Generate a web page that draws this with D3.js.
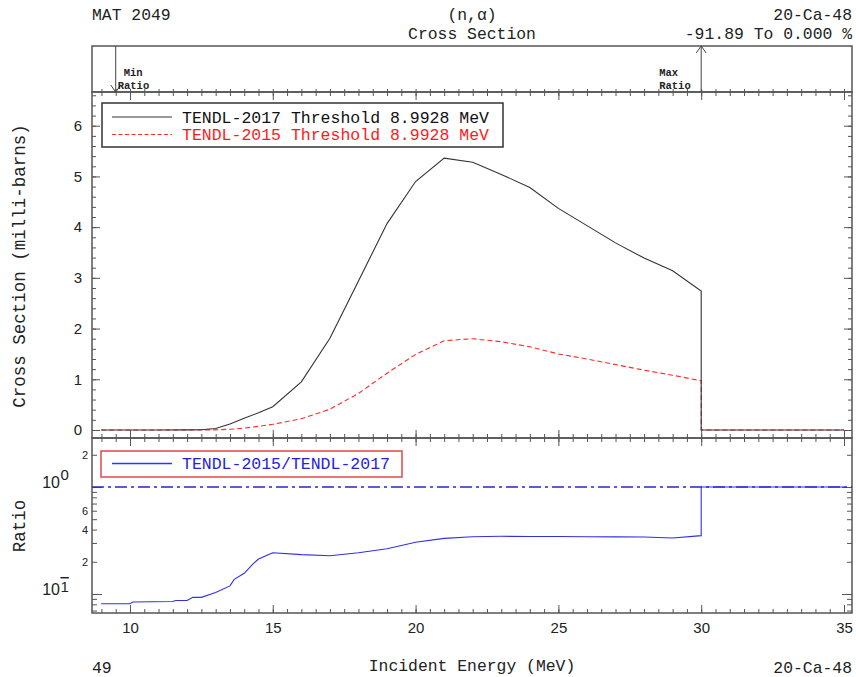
<!DOCTYPE html>
<html><head><meta charset="utf-8">
<script src="https://cdn.jsdelivr.net/npm/d3@7/dist/d3.min.js"></script>
<style>
body{margin:0;background:#fff}
text{font-family:"Liberation Mono","DejaVu Sans Mono",monospace}
</style>
</head><body>
<svg id="c" width="856" height="677"></svg>
<script>
// ---------- data ----------
const xsEnergy = [8.9928, 10, 11, 12, 12.5, 13, 13.5, 14, 14.5, 15, 16, 17, 18, 19, 20, 21, 22, 23, 24, 25, 26, 27, 28, 29, 30, 30, 35];
const xsTendl2017 = [0, 0.0003, 0.0008, 0.002, 0.006, 0.03, 0.12, 0.23, 0.34, 0.46, 0.95, 1.81, 2.94, 4.07, 4.9, 5.36, 5.28, 5.04, 4.78, 4.37, 4.03, 3.69, 3.39, 3.14, 2.74, 0, 0];
const xsTendl2015 = [0, 0, 0, 0.0002, 0.0005, 0.003, 0.014, 0.036, 0.072, 0.112, 0.22, 0.41, 0.72, 1.12, 1.49, 1.76, 1.80, 1.74, 1.64, 1.50, 1.40, 1.29, 1.18, 1.08, 0.97, 0, 0];
const ratioEnergy = [8.9928, 10, 10.1, 11.5, 11.6, 12, 12.2, 12.5, 13, 13.5, 13.65, 14, 14.3, 14.5, 15, 16, 17, 18, 19, 20, 21, 22, 23, 24, 25, 26, 27, 28, 29, 30, 30, 35];
const ratioValues = [0.081, 0.081, 0.084, 0.085, 0.087, 0.087, 0.093, 0.093, 0.103, 0.119, 0.137, 0.156, 0.190, 0.212, 0.243, 0.233, 0.228, 0.243, 0.265, 0.304, 0.331, 0.343, 0.346, 0.345, 0.344, 0.343, 0.342, 0.341, 0.334, 0.351, 1, 1];
const xTickLabels = [10, 15, 20, 25, 30, 35];
const yTickLabels = [0, 1, 2, 3, 4, 5, 6];
const ratioMinorLabels = [0.2, 0.4, 0.6, 2];
const minRatioEnergy = 9.5;
const maxRatioEnergy = 30;
const legendMain = ["TENDL-2017 Threshold 8.9928 MeV", "TENDL-2015 Threshold 8.9928 MeV"];
const legendRatio = "TENDL-2015/TENDL-2017";

// ---------- layout ----------
const L = 92, R = 852, arrowTop = 46, mainTop = 92, mainBot = 438, ratioBot = 613;
const svg = d3.select("#c");
const x = d3.scaleLinear([8.67, 35.28], [L, R]);
const y = d3.scaleLinear([-0.158, 6.665], [mainBot, mainTop]);
const yr = d3.scaleLog([0.0664, 2.87], [ratioBot, mainBot]);

const frame = "#555";
const xMinor = d3.range(9, 35.01, 0.5);
const yMinor = d3.range(0, 6.61, 0.2);
const rMinor = [0.07,0.08,0.09,0.2,0.3,0.4,0.5,0.6,0.7,0.8,0.9,2];
const rMajor = [0.1, 1];

function ticks(axisFn, scale, vals, size, tx, ty) {
  const g = svg.append("g").attr("transform", `translate(${tx},${ty})`)
    .call(axisFn(scale).tickValues(vals).tickSize(size).tickFormat(""));
  g.select(".domain").remove();
  g.selectAll("line").attr("stroke", frame).attr("stroke-width", 1);
}
// x ticks
ticks(d3.axisTop, x, xMinor, -4, 0, mainTop);
ticks(d3.axisTop, x, xTickLabels, -8, 0, mainTop);
ticks(d3.axisBottom, x, xMinor, -3, 0, mainTop);
ticks(d3.axisBottom, x, xMinor, -4, 0, mainBot);
ticks(d3.axisBottom, x, xTickLabels, -8, 0, mainBot);
ticks(d3.axisTop, x, xMinor, -4, 0, mainBot);
ticks(d3.axisTop, x, xTickLabels, -8, 0, mainBot);
ticks(d3.axisBottom, x, xMinor, -4, 0, ratioBot);
ticks(d3.axisBottom, x, xTickLabels, -8, 0, ratioBot);
// y ticks main
ticks(d3.axisLeft, y, yMinor, -4, L, 0);
ticks(d3.axisLeft, y, yTickLabels, -8, L, 0);
ticks(d3.axisRight, y, yMinor, -4, R, 0);
ticks(d3.axisRight, y, yTickLabels, -8, R, 0);
// y ticks ratio
ticks(d3.axisLeft, yr, rMinor, -5, L, 0);
ticks(d3.axisLeft, yr, rMajor, -10, L, 0);
ticks(d3.axisRight, yr, rMinor, -5, R, 0);
ticks(d3.axisRight, yr, rMajor, -10, R, 0);

// frames
[[arrowTop, mainTop], [mainTop, mainBot], [mainBot, ratioBot]].forEach(([a, b]) => {
  svg.append("rect").attr("x", L).attr("y", a).attr("width", R - L).attr("height", b - a)
    .attr("fill", "none").attr("stroke", frame).attr("stroke-width", 1.5);
});

const sans = "Liberation Sans, Arial, sans-serif";
// tick labels
const gx = svg.append("g").attr("transform", `translate(0,${ratioBot})`)
  .call(d3.axisBottom(x).tickValues(xTickLabels).tickSize(0).tickPadding(9).tickFormat(d3.format("d")));
gx.select(".domain").remove();
gx.selectAll("text").attr("font-size", 15).attr("fill", "#222").style("font-family", sans);
const gy = svg.append("g").attr("transform", `translate(${L},0)`)
  .call(d3.axisLeft(y).tickValues(yTickLabels).tickSize(0).tickPadding(10).tickFormat(d3.format("d")));
gy.select(".domain").remove();
gy.selectAll("text").attr("font-size", 15).attr("fill", "#222").style("font-family", sans);
const gr = svg.append("g").attr("transform", `translate(${L - 4},0)`)
  .call(d3.axisLeft(yr).tickValues(ratioMinorLabels).tickSize(0).tickPadding(0).tickFormat(d => d < 1 ? String(Math.round(d * 10)) : String(d)));
gr.select(".domain").remove();
gr.selectAll("text").attr("font-size", 11).attr("fill", "#222").style("font-family", sans);

// decade labels
function decade(val, sup, overline, dy) {
  svg.append("text").attr("x", 60).attr("y", yr(val) + dy)
    .attr("text-anchor", "end").attr("font-size", 16).attr("fill", "#222")
    .style("font-family", sans).text("10");
  const s = svg.append("text").attr("x", 60.5).attr("y", yr(val) + dy - (overline ? 3 : 8))
    .attr("font-size", 15).attr("fill", "#222")
    .style("font-family", sans).text(sup);
  if (overline) s.style("text-decoration", "overline");
}
decade(1, "0", false, 1);
decade(0.1, "1", true, 1);

// axis titles
svg.append("text").attr("transform", `translate(25,${(122 + 410) / 2}) rotate(-90)`)
  .attr("text-anchor", "middle").attr("font-size", 17.5).attr("fill", "#222")
  .text("Cross Section (milli-barns)");
svg.append("text").attr("transform", `translate(25,526) rotate(-90)`)
  .attr("text-anchor", "middle").attr("font-size", 17.5).attr("fill", "#222").text("Ratio");
svg.append("text").attr("x", (L + R) / 2).attr("y", 671).attr("text-anchor", "middle")
  .attr("font-size", 16.4).attr("fill", "#222").text("Incident Energy (MeV)");
svg.append("text").attr("x", L).attr("y", 673).attr("font-size", 16.4).attr("fill", "#222").text("49");
svg.append("text").attr("x", R).attr("y", 673).attr("text-anchor", "end").attr("font-size", 16.4).attr("fill", "#222").text("20-Ca-48");

// header
svg.append("text").attr("x", L).attr("y", 20).attr("font-size", 16.4).attr("fill", "#222").text("MAT 2049");
svg.append("text").attr("x", (L + R) / 2).attr("y", 20).attr("text-anchor", "middle").attr("font-size", 16.4).attr("fill", "#222").text("(n,α)");
svg.append("text").attr("x", (L + R) / 2).attr("y", 39).attr("text-anchor", "middle").attr("font-size", 16.4).attr("fill", "#222").text("Cross Section");
svg.append("text").attr("x", R).attr("y", 20).attr("text-anchor", "end").attr("font-size", 16.4).attr("fill", "#222").text("20-Ca-48");
svg.append("text").attr("x", R).attr("y", 39).attr("text-anchor", "end").attr("font-size", 16.4).attr("fill", "#222").text("-91.89 To 0.000 %");

// min / max ratio arrows
const xm = x(minRatioEnergy), xM = x(maxRatioEnergy);
svg.append("line").attr("x1", xm).attr("x2", xm).attr("y1", arrowTop).attr("y2", mainTop).attr("stroke", "#444");
svg.append("path").attr("d", `M${xm - 5},${mainTop - 7}L${xm},${mainTop}L${xm + 5},${mainTop - 7}`).attr("fill", "none").attr("stroke", "#444");
svg.append("line").attr("x1", xM).attr("x2", xM).attr("y1", arrowTop).attr("y2", mainTop).attr("stroke", "#444");
svg.append("path").attr("d", `M${xM - 5},${arrowTop + 7}L${xM},${arrowTop}L${xM + 5},${arrowTop + 7}`).attr("fill", "none").attr("stroke", "#444");
const fs = 10.5;
svg.append("text").attr("x", xm + 8).attr("y", 76).attr("font-size", fs).attr("font-weight", "bold").attr("fill", "#222").text("Min");
svg.append("text").attr("x", xm + 2).attr("y", 88.5).attr("font-size", fs).attr("font-weight", "bold").attr("fill", "#222").text("Ratio");
svg.append("text").attr("x", xM - 42).attr("y", 76).attr("font-size", fs).attr("font-weight", "bold").attr("fill", "#222").text("Max");
svg.append("text").attr("x", xM - 42).attr("y", 88.5).attr("font-size", fs).attr("font-weight", "bold").attr("fill", "#222").text("Ratio");

// curves
const lineXS = d3.line().x(d => x(d[0])).y(d => y(d[1]));
svg.append("path").datum(d3.zip(xsEnergy, xsTendl2015)).attr("d", lineXS)
  .attr("fill", "none").attr("stroke", "#ff2a2a").attr("stroke-width", 1.1).attr("stroke-dasharray", "5,3");
svg.append("path").datum(d3.zip(xsEnergy, xsTendl2017)).attr("d", lineXS)
  .attr("fill", "none").attr("stroke", "#333").attr("stroke-width", 1.1);

// ratio = 1 reference line
svg.append("line").attr("x1", L).attr("x2", R).attr("y1", yr(1)).attr("y2", yr(1))
  .attr("stroke", "#2626d9").attr("stroke-width", 1.6).attr("stroke-dasharray", "12,4,3,4");
const lineR = d3.line().x(d => x(d[0])).y(d => yr(d[1]));
svg.append("path").datum(d3.zip(ratioEnergy, ratioValues)).attr("d", lineR)
  .attr("fill", "none").attr("stroke", "#3030e8").attr("stroke-width", 1.1);

// legends
svg.append("rect").attr("x", 102).attr("y", 103).attr("width", 401).attr("height", 44)
  .attr("fill", "#fff").attr("stroke", "#333").attr("stroke-width", 1.5);
svg.append("line").attr("x1", 112).attr("x2", 172).attr("y1", 117).attr("y2", 117).attr("stroke", "#333").attr("stroke-width", 1.1);
svg.append("line").attr("x1", 112).attr("x2", 172).attr("y1", 134.5).attr("y2", 134.5).attr("stroke", "#ff2a2a").attr("stroke-width", 1.1).attr("stroke-dasharray", "4,2.5");
svg.append("text").attr("x", 182).attr("y", 122.5).attr("font-size", 16.5).attr("fill", "#111").text(legendMain[0]);
svg.append("text").attr("x", 182).attr("y", 140).attr("font-size", 16.5).attr("fill", "#ff1a1a").text(legendMain[1]);

svg.append("rect").attr("x", 101).attr("y", 451).attr("width", 301).attr("height", 26)
  .attr("fill", "#fff").attr("stroke", "#e04848").attr("stroke-width", 1.5);
svg.append("path").attr("d", "M112,463.5H172").attr("fill", "none").attr("stroke", "#3333ff").attr("stroke-width", 1.3);
svg.append("text").attr("x", 182).attr("y", 469).attr("font-size", 16.5).attr("fill", "#2222dd").text(legendRatio);
</script>
</body></html>
